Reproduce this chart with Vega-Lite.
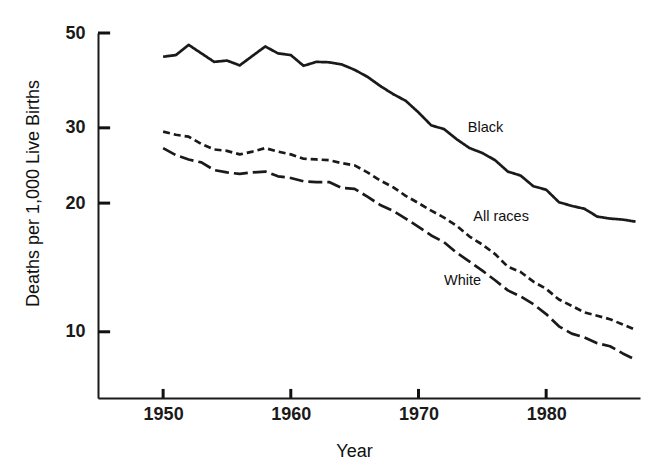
{
  "$schema": "https://vega.github.io/schema/vega-lite/v6.json",
  "autosize": "none",
  "width": 542,
  "height": 365,
  "padding": {"left": 98, "top": 33, "right": 24, "bottom": 78},
  "background": "white",
  "config": {
    "view": {"stroke": null},
    "axis": {
      "grid": false,
      "ticks": false,
      "domainColor": "#1a1a1a",
      "domainWidth": 2,
      "labelFont": "Liberation Sans",
      "labelFontSize": 18,
      "labelFontWeight": "bold",
      "labelColor": "#1a1a1a",
      "titleFont": "Liberation Sans",
      "titleFontSize": 18,
      "titleFontWeight": "normal",
      "titleColor": "#111111"
    }
  },
  "datasets": {
    "rates": [
      {"year": 1950, "series": "Black", "rate": 44.0},
      {"year": 1951, "series": "Black", "rate": 44.4},
      {"year": 1952, "series": "Black", "rate": 46.9},
      {"year": 1953, "series": "Black", "rate": 44.8},
      {"year": 1954, "series": "Black", "rate": 42.8},
      {"year": 1955, "series": "Black", "rate": 43.1},
      {"year": 1956, "series": "Black", "rate": 42.0},
      {"year": 1957, "series": "Black", "rate": 44.2},
      {"year": 1958, "series": "Black", "rate": 46.5},
      {"year": 1959, "series": "Black", "rate": 44.8},
      {"year": 1960, "series": "Black", "rate": 44.4},
      {"year": 1961, "series": "Black", "rate": 41.9},
      {"year": 1962, "series": "Black", "rate": 42.8},
      {"year": 1963, "series": "Black", "rate": 42.7},
      {"year": 1964, "series": "Black", "rate": 42.2},
      {"year": 1965, "series": "Black", "rate": 41.0},
      {"year": 1966, "series": "Black", "rate": 39.5},
      {"year": 1967, "series": "Black", "rate": 37.6},
      {"year": 1968, "series": "Black", "rate": 36.0},
      {"year": 1969, "series": "Black", "rate": 34.7},
      {"year": 1970, "series": "Black", "rate": 32.6},
      {"year": 1971, "series": "Black", "rate": 30.4},
      {"year": 1972, "series": "Black", "rate": 29.8},
      {"year": 1973, "series": "Black", "rate": 28.2},
      {"year": 1974, "series": "Black", "rate": 26.9},
      {"year": 1975, "series": "Black", "rate": 26.2},
      {"year": 1976, "series": "Black", "rate": 25.2},
      {"year": 1977, "series": "Black", "rate": 23.7},
      {"year": 1978, "series": "Black", "rate": 23.2},
      {"year": 1979, "series": "Black", "rate": 21.9},
      {"year": 1980, "series": "Black", "rate": 21.5},
      {"year": 1981, "series": "Black", "rate": 20.1},
      {"year": 1982, "series": "Black", "rate": 19.7},
      {"year": 1983, "series": "Black", "rate": 19.4},
      {"year": 1984, "series": "Black", "rate": 18.6},
      {"year": 1985, "series": "Black", "rate": 18.4},
      {"year": 1986, "series": "Black", "rate": 18.3},
      {"year": 1987, "series": "Black", "rate": 18.1},
      {"year": 1950, "series": "All races", "rate": 29.4},
      {"year": 1951, "series": "All races", "rate": 28.9},
      {"year": 1952, "series": "All races", "rate": 28.6},
      {"year": 1953, "series": "All races", "rate": 27.5},
      {"year": 1954, "series": "All races", "rate": 26.7},
      {"year": 1955, "series": "All races", "rate": 26.5},
      {"year": 1956, "series": "All races", "rate": 26.0},
      {"year": 1957, "series": "All races", "rate": 26.4},
      {"year": 1958, "series": "All races", "rate": 26.9},
      {"year": 1959, "series": "All races", "rate": 26.4},
      {"year": 1960, "series": "All races", "rate": 26.0},
      {"year": 1961, "series": "All races", "rate": 25.4},
      {"year": 1962, "series": "All races", "rate": 25.3},
      {"year": 1963, "series": "All races", "rate": 25.2},
      {"year": 1964, "series": "All races", "rate": 24.8},
      {"year": 1965, "series": "All races", "rate": 24.5},
      {"year": 1966, "series": "All races", "rate": 23.6},
      {"year": 1967, "series": "All races", "rate": 22.6},
      {"year": 1968, "series": "All races", "rate": 21.8},
      {"year": 1969, "series": "All races", "rate": 20.8},
      {"year": 1970, "series": "All races", "rate": 20.0},
      {"year": 1971, "series": "All races", "rate": 19.2},
      {"year": 1972, "series": "All races", "rate": 18.5},
      {"year": 1973, "series": "All races", "rate": 17.7},
      {"year": 1974, "series": "All races", "rate": 16.7},
      {"year": 1975, "series": "All races", "rate": 16.0},
      {"year": 1976, "series": "All races", "rate": 15.2},
      {"year": 1977, "series": "All races", "rate": 14.2},
      {"year": 1978, "series": "All races", "rate": 13.8},
      {"year": 1979, "series": "All races", "rate": 13.1},
      {"year": 1980, "series": "All races", "rate": 12.6},
      {"year": 1981, "series": "All races", "rate": 11.9},
      {"year": 1982, "series": "All races", "rate": 11.5},
      {"year": 1983, "series": "All races", "rate": 11.1},
      {"year": 1984, "series": "All races", "rate": 10.9},
      {"year": 1985, "series": "All races", "rate": 10.7},
      {"year": 1986, "series": "All races", "rate": 10.4},
      {"year": 1987, "series": "All races", "rate": 10.1},
      {"year": 1950, "series": "White", "rate": 26.9},
      {"year": 1951, "series": "White", "rate": 25.9},
      {"year": 1952, "series": "White", "rate": 25.3},
      {"year": 1953, "series": "White", "rate": 24.9},
      {"year": 1954, "series": "White", "rate": 23.9},
      {"year": 1955, "series": "White", "rate": 23.6},
      {"year": 1956, "series": "White", "rate": 23.4},
      {"year": 1957, "series": "White", "rate": 23.6},
      {"year": 1958, "series": "White", "rate": 23.7},
      {"year": 1959, "series": "White", "rate": 23.1},
      {"year": 1960, "series": "White", "rate": 22.9},
      {"year": 1961, "series": "White", "rate": 22.5},
      {"year": 1962, "series": "White", "rate": 22.4},
      {"year": 1963, "series": "White", "rate": 22.4},
      {"year": 1964, "series": "White", "rate": 21.7},
      {"year": 1965, "series": "White", "rate": 21.6},
      {"year": 1966, "series": "White", "rate": 20.7},
      {"year": 1967, "series": "White", "rate": 19.8},
      {"year": 1968, "series": "White", "rate": 19.2},
      {"year": 1969, "series": "White", "rate": 18.4},
      {"year": 1970, "series": "White", "rate": 17.6},
      {"year": 1971, "series": "White", "rate": 16.8},
      {"year": 1972, "series": "White", "rate": 16.2},
      {"year": 1973, "series": "White", "rate": 15.3},
      {"year": 1974, "series": "White", "rate": 14.6},
      {"year": 1975, "series": "White", "rate": 13.9},
      {"year": 1976, "series": "White", "rate": 13.2},
      {"year": 1977, "series": "White", "rate": 12.5},
      {"year": 1978, "series": "White", "rate": 12.1},
      {"year": 1979, "series": "White", "rate": 11.6},
      {"year": 1980, "series": "White", "rate": 11.0},
      {"year": 1981, "series": "White", "rate": 10.3},
      {"year": 1982, "series": "White", "rate": 9.9},
      {"year": 1983, "series": "White", "rate": 9.7},
      {"year": 1984, "series": "White", "rate": 9.4},
      {"year": 1985, "series": "White", "rate": 9.25},
      {"year": 1986, "series": "White", "rate": 8.9},
      {"year": 1987, "series": "White", "rate": 8.6}
    ],
    "labels": [
      {"year": 1975.25, "rate": 29.9, "label": "Black"},
      {"year": 1976.47, "rate": 18.58, "label": "All races"},
      {"year": 1973.45, "rate": 13.13, "label": "White"}
    ],
    "yTicks": [{"rate": 10}, {"rate": 20}, {"rate": 30}, {"rate": 50}],
    "xTicks": [{"year": 1950}, {"year": 1960}, {"year": 1970}, {"year": 1980}]
  },
  "layer": [
    {
      "data": {"name": "rates"},
      "mark": {"type": "line", "color": "#1a1a1a", "strokeWidth": 2.7, "strokeCap": "butt", "strokeJoin": "round"},
      "encoding": {
        "x": {
          "field": "year",
          "type": "quantitative",
          "scale": {"domain": [1944.9, 1987.35], "nice": false, "zero": false},
          "axis": {
            "values": [1950, 1960, 1970, 1980],
            "format": "d",
            "title": "Year",
            "labelPadding": 7,
            "titleX": 256,
            "titleY": 53,
            "titleBaseline": "middle"
          }
        },
        "y": {
          "field": "rate",
          "type": "quantitative",
          "scale": {"type": "log", "domain": [7, 50], "nice": false, "zero": false},
          "axis": {
            "values": [10, 20, 30, 50],
            "format": "d",
            "title": "Deaths per 1,000 Live Births",
            "labelPadding": 13,
            "titleX": -65,
            "titleY": 160,
            "titleAngle": -90,
            "titleBaseline": "middle",
            "titleAlign": "center"
          }
        },
        "detail": {"field": "series"},
        "strokeDash": {
          "field": "series",
          "type": "nominal",
          "scale": {"domain": ["Black", "All races", "White"], "range": [[1, 0], [7, 4], [14, 5]]},
          "legend": null
        }
      }
    },
    {
      "data": {"name": "yTicks"},
      "mark": {"type": "rule", "color": "#111111", "strokeWidth": 3},
      "encoding": {
        "y": {"field": "rate", "type": "quantitative"},
        "x": {"datum": 1944.9},
        "x2": {"datum": 1945.85}
      }
    },
    {
      "data": {"name": "xTicks"},
      "mark": {"type": "rule", "color": "#111111", "strokeWidth": 3},
      "encoding": {
        "x": {"field": "year", "type": "quantitative"},
        "y": {"datum": 7},
        "y2": {"datum": 7.35}
      }
    },
    {
      "data": {"name": "labels"},
      "mark": {"type": "text", "font": "Liberation Sans", "fontSize": 14.5, "color": "#111111", "align": "center", "baseline": "middle"},
      "encoding": {
        "x": {"field": "year", "type": "quantitative"},
        "y": {"field": "rate", "type": "quantitative"},
        "text": {"field": "label"}
      }
    }
  ]
}
